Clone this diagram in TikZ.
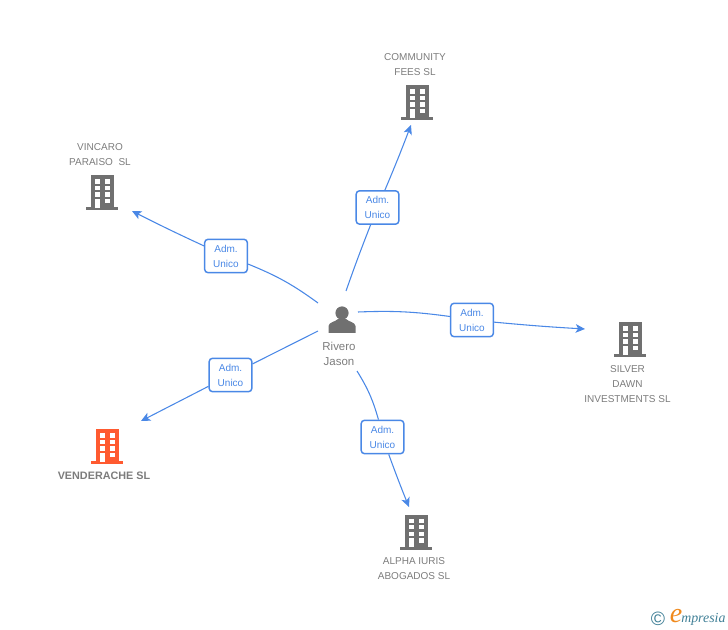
\documentclass[tikz,border=0pt]{standalone}
\usepackage{fontspec}
\setmainfont{Liberation Sans}
\newfontfamily\logofont{Liberation Serif}
\usetikzlibrary{arrows.meta}
\definecolor{linkblue}{HTML}{4A88E6}
\definecolor{iconGray}{HTML}{707070}
\definecolor{textGray}{HTML}{7C7C7C}
\definecolor{iconOrange}{HTML}{FF5A30}
\definecolor{logoTeal}{HTML}{3F7F96}
\definecolor{logoOrange}{HTML}{F08A1E}
\tikzset{
 admbox/.style={draw=linkblue, line width=1.1pt, fill=white, rounded corners=2.5pt, minimum width=32pt, minimum height=25pt, inner sep=0pt, align=center, text=linkblue, font=\fontsize{7.5}{11.25}\selectfont},
 firmtext/.style={align=center, inner sep=0pt, text=textGray, font=\fontsize{7.5}{11.25}\selectfont},
 link/.style={linkblue, line width=.8pt},
 linkend/.style={link, -{Stealth[length=7pt,width=6.5pt,inset=1.8pt]}},
 building/.pic={
  \fill[pic actions] (-11.5,-16.5) rectangle (11.5,16);
  \fill[pic actions] (-16,15.5) rectangle (16,18.5);
  \foreach \r in {-12.5,-6,.5} {
   \fill[white] (-7.5,\r) rectangle (-2.5,{\r+4.2});
   \fill[white] (2.5,\r) rectangle (7.5,{\r+4.2});
  }
  \fill[white] (-7.5,7) rectangle (-2.5,16);
  \fill[white] (2.5,7) rectangle (7.5,11.5);
 }
}
\begin{document}
\begin{tikzpicture}[x=.75pt,y=-.75pt]
\useasboundingbox (0,0) rectangle (728,630);
% person in the middle
\fill[iconGray] (342,313) circle (6.6);
\fill[iconGray] (328.5,333) -- (328.5,326) .. controls (329,322) and (335,322) .. (338,319) -- (346,319) .. controls (349,322) and (355,322) .. (355.5,326) -- (355.5,333) -- cycle;
\node[firmtext, font=\fontsize{8.6}{11.25}\selectfont] (jason) at (339,354) {Rivero\\Jason};
% firms
\pic[iconGray] at (417,102) {building};
\pic[iconGray] at (102,192) {building};
\pic[iconGray] at (630,339) {building};
\pic[iconGray] at (416,531) {building};
\pic[iconOrange] at (107,446) {building};
\node[firmtext] (community) at (415,64.5) {COMMUNITY\\FEES SL};
\node[firmtext] (vincaro) at (100,155) {VINCARO\\PARAISO~~SL};
\node[firmtext] (silver) at (627.5,384) {SILVER\\DAWN\\INVESTMENTS SL};
\node[firmtext] (alpha) at (414,568.5) {ALPHA IURIS\\ABOGADOS SL};
\node[firmtext, font=\fontsize{8.1}{11.25}\bfseries\selectfont] (vende) at (104,475.5) {VENDERACHE SL};
% ends of the links
\foreach \n/\x/\y in {sTop/346/291, eTop/411/125, sVin/318/303, eVin/132/211, sVen/318/331, eVen/141/421, sSil/358/312, eSil/585/329, sAlp/357/371, eAlp/409/507} {
 \coordinate (\n) at (\x,\y);
}
\foreach \n/\x/\y in {admTop/377.5/207.5, admVin/226/256, admVen/230.5/375, admSil/472/320, admAlp/382.5/437} {
 \node[admbox] (\n) at (\x,\y) {Adm.\\Unico};
}
% links
\draw[link] (sTop) to[bend left=1] (admTop);
\draw[linkend] (admTop) to[bend right=1] (eTop);
\draw[link] (sVin) to[bend right=7] (admVin);
\draw[linkend] (admVin) to[bend left=1] (eVin);
\draw[link] (sVen) -- (admVen);
\draw[linkend] (admVen) -- (eVen);
\draw[link] (sSil) to[bend left=5] (admSil);
\draw[linkend] (admSil) to[bend right=1] (eSil);
\draw[link] (sAlp) to[bend left=8] (admAlp);
\draw[linkend] (admAlp) to[bend right=1] (eAlp);
% logo
\node[inner sep=0pt, text=logoTeal, font=\fontsize{14.5}{15}\selectfont] (copyr) at (658,619) {©};
\node[inner sep=0pt, text=logoOrange, font=\logofont\itshape\fontsize{21}{21}\selectfont] (logoe) at (676,616) {e};
\node[inner sep=0pt, anchor=base west, text=logoTeal, font=\logofont\itshape\fontsize{10.4}{12}\selectfont] (logotxt) at (681,622.5) {mpresia};
\end{tikzpicture}
\end{document}
